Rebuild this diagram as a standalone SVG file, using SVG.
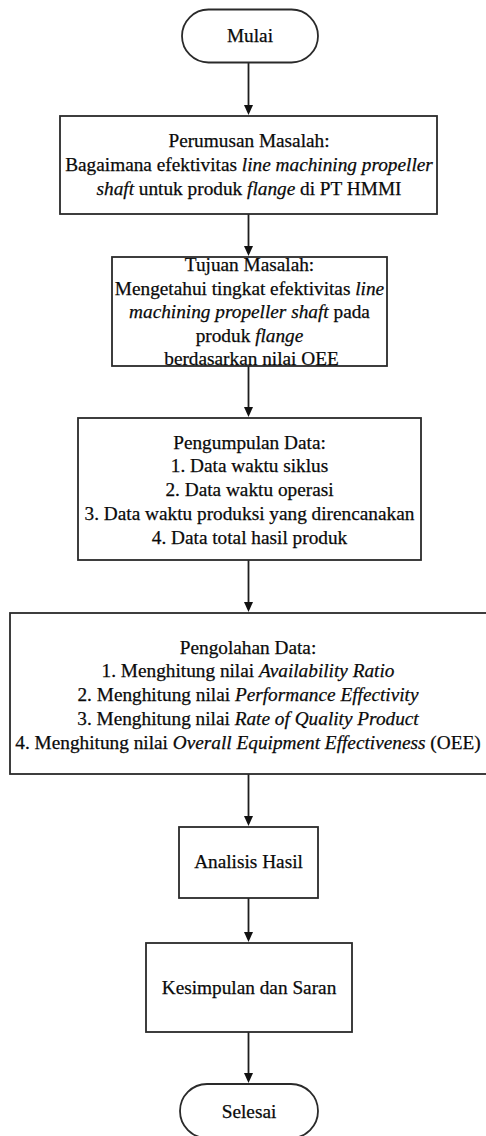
<svg xmlns="http://www.w3.org/2000/svg" width="486" height="1136" viewBox="0 0 486 1136">
<style>
.box{fill:#fff;stroke:#2a2a2a;stroke-width:1.8}
.t{font-family:"Liberation Serif","Times New Roman",serif;font-size:19.3px;fill:#0a0a0a;stroke:#0a0a0a;stroke-width:0.25;text-anchor:middle}
.i{font-style:italic}
.c{fill:none;stroke:#1e1e1e;stroke-width:1.8}
</style>
<defs>
<marker id="ah" markerUnits="userSpaceOnUse" markerWidth="10" markerHeight="9" refX="6" refY="4.5" orient="auto">
<path d="M0,0 L10,4.5 L0,9 z" fill="#111"/>
</marker>
</defs>
<rect width="486" height="1136" fill="#fff"/>
<g id="connectors">
<path class="c" d="M248.5,63 V111" marker-end="url(#ah)"/>
<path class="c" d="M248.5,214 V252" marker-end="url(#ah)"/>
<path class="c" d="M248.5,366 V413" marker-end="url(#ah)"/>
<path class="c" d="M248.5,560 V608" marker-end="url(#ah)"/>
<path class="c" d="M248.5,774 V822" marker-end="url(#ah)"/>
<path class="c" d="M248.5,898 V938" marker-end="url(#ah)"/>
<path class="c" d="M248.5,1032 V1079" marker-end="url(#ah)"/>
</g>
<g id="mulai">
<rect class="box" x="182" y="9.5" width="136" height="53" rx="26.5"/>
<text class="t" x="250" y="41.5">Mulai</text>
</g>
<g id="perumusan">
<rect class="box" x="60" y="116" width="377" height="98"/>
<text class="t" x="249" y="147">Perumusan Masalah:</text>
<text class="t" x="249" y="171">Bagaimana efektivitas <tspan class="i">line machining propeller</tspan></text>
<text class="t" x="249" y="195"><tspan class="i">shaft</tspan> untuk produk <tspan class="i">flange</tspan> di PT HMMI</text>
</g>
<g id="tujuan">
<rect class="box" x="112" y="257" width="275" height="109"/>
<text class="t" x="249.5" y="270.5">Tujuan Masalah:</text>
<text class="t" x="249.5" y="294.5">Mengetahui tingkat efektivitas <tspan class="i">line</tspan></text>
<text class="t" x="249.5" y="318"><tspan class="i">machining propeller shaft</tspan> pada</text>
<text class="t" x="249.5" y="341.5">produk <tspan class="i">flange</tspan></text>
<text class="t" x="251.5" y="365">berdasarkan nilai OEE</text>
</g>
<g id="pengumpulan">
<rect class="box" x="78" y="418" width="343" height="142"/>
<text class="t" x="249.5" y="448.5">Pengumpulan Data:</text>
<text class="t" x="249.5" y="472.3">1. Data waktu siklus</text>
<text class="t" x="249.5" y="496">2. Data waktu operasi</text>
<text class="t" x="249.5" y="519.8">3. Data waktu produksi yang direncanakan</text>
<text class="t" x="249.5" y="543.5">4. Data total hasil produk</text>
</g>
<g id="pengolahan">
<rect class="box" x="10" y="613" width="478" height="161"/>
<text class="t" x="248" y="653.5">Pengolahan Data:</text>
<text class="t" x="248" y="677.3">1. Menghitung nilai <tspan class="i">Availability Ratio</tspan></text>
<text class="t" x="248" y="701">2. Menghitung nilai <tspan class="i">Performance Effectivity</tspan></text>
<text class="t" x="248" y="724.8">3. Menghitung nilai <tspan class="i">Rate of Quality Product</tspan></text>
<text class="t" x="248" y="748.5">4. Menghitung nilai <tspan class="i">Overall Equipment Effectiveness</tspan> (OEE)</text>
</g>
<g id="analisis">
<rect class="box" x="179" y="827" width="139" height="71"/>
<text class="t" x="248.5" y="867.5">Analisis Hasil</text>
</g>
<g id="kesimpulan">
<rect class="box" x="146" y="943" width="206" height="89"/>
<text class="t" x="249" y="993.5">Kesimpulan dan Saran</text>
</g>
<g id="selesai">
<rect class="box" x="180" y="1084" width="138" height="54" rx="27"/>
<text class="t" x="249" y="1117.5">Selesai</text>
</g>
</svg>
